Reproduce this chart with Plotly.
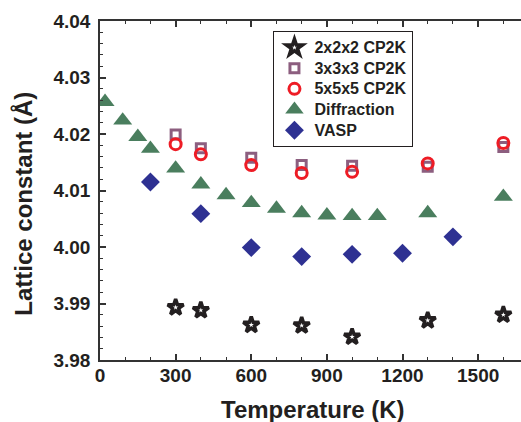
import plotly.graph_objects as go

# Data
t_2x2x2 = [300, 400, 600, 800, 1000, 1300, 1600]
a_2x2x2 = [3.9893, 3.9888, 3.9862, 3.9861, 3.9841, 3.9870, 3.9880]

t_3x3x3 = [300, 400, 600, 800, 1000, 1300, 1600]
a_3x3x3 = [4.0199, 4.0175, 4.0158, 4.0145, 4.0144, 4.0142, 4.0177]

t_5x5x5 = [300, 400, 600, 800, 1000, 1300, 1600]
a_5x5x5 = [4.0182, 4.0164, 4.0145, 4.0131, 4.0133, 4.0148, 4.0184]

t_diff = [20, 90, 150, 200, 300, 400, 500, 600, 700, 800, 900, 1000, 1100, 1300, 1600]
a_diff = [4.0257, 4.0224, 4.0195, 4.0174, 4.0139, 4.0111, 4.0092, 4.0078, 4.0068,
          4.0060, 4.0056, 4.0055, 4.0055, 4.0060, 4.0089]

t_vasp = [200, 400, 600, 800, 1000, 1200, 1400]
a_vasp = [4.0115, 4.0059, 3.9999, 3.9983, 3.9987, 3.9989, 4.0018]

x_ticks = [0, 300, 600, 900, 1200, 1500]
y_ticks = [3.98, 3.99, 4.00, 4.01, 4.02, 4.03, 4.04]

FONT = "Liberation Sans"
INK = "#231F20"


def leg(name):
    return f'<span style="font-size:16px;font-weight:bold">{name}</span>'


fig = go.Figure()
fig.add_trace(go.Scatter(
    x=t_2x2x2, y=a_2x2x2, mode="markers", name=leg("2x2x2 CP2K"),
    marker=dict(symbol="star-open", size=12, color=INK,
                line=dict(width=3.5, color=INK))))
fig.add_trace(go.Scatter(
    x=t_3x3x3, y=a_3x3x3, mode="markers", name=leg("3x3x3 CP2K"),
    marker=dict(symbol="square-open", size=9, color="#8C5E7F",
                line=dict(width=3, color="#8C5E7F"))))
fig.add_trace(go.Scatter(
    x=t_5x5x5, y=a_5x5x5, mode="markers", name=leg("5x5x5 CP2K"),
    marker=dict(symbol="circle-open", size=11, color="#EE1C25",
                line=dict(width=3, color="#EE1C25"))))
fig.add_trace(go.Scatter(
    x=t_diff, y=a_diff, mode="markers", name=leg("Diffraction"),
    marker=dict(symbol="triangle-up", size=16.5, color="#4A7E5E",
                line=dict(width=0))))
fig.add_trace(go.Scatter(
    x=t_vasp, y=a_vasp, mode="markers", name=leg("VASP"),
    marker=dict(symbol="diamond", size=14.5, color="#2E3192",
                line=dict(width=0))))

fig.update_layout(
    width=521, height=422,
    margin=dict(l=100, r=0, t=21, b=62, autoexpand=False),
    paper_bgcolor="white", plot_bgcolor="white",
    font=dict(family=FONT, color=INK),
    showlegend=True,
    legend=dict(x=0.412, y=0.97, xanchor="left", yanchor="top",
                bordercolor=INK, borderwidth=1, bgcolor="white",
                font=dict(family=FONT, size=13.6, color=INK, weight="bold"),
                tracegroupgap=0, itemsizing="trace"),
    annotations=[
        dict(text="<b>Temperature (K)</b>", xref="paper", yref="paper",
             x=0.506, y=-0.147, xanchor="center", yanchor="middle", showarrow=False,
             font=dict(family=FONT, size=24, color=INK)),
        dict(text="<b>Lattice constant (Å)</b>", xref="paper", yref="paper",
             x=-0.1805, y=0.461, xanchor="center", yanchor="middle", showarrow=False,
             textangle=-90, font=dict(family=FONT, size=24, color=INK)),
    ],
)
fig.update_xaxes(
    range=[0, 1670], tickvals=x_ticks, ticktext=[f"<b>{v}</b>" for v in x_ticks],
    automargin=False, ticklabelstandoff=-3,
    showline=True, linecolor="#333333", linewidth=1.5, mirror="ticks",
    ticks="inside", ticklen=6, tickwidth=1.5, tickcolor="#333333",
    minor=dict(dtick=100, tick0=0, ticks="inside", ticklen=3.5, tickwidth=1.2,
               tickcolor="#333333", showgrid=False),
    showgrid=False, zeroline=False,
    tickfont=dict(family=FONT, size=19, color=INK),
)
fig.update_yaxes(
    range=[3.98, 4.04], tickvals=y_ticks, ticktext=[f"<b>{v:.2f}</b>" for v in y_ticks],
    automargin=False, ticklabelstandoff=4,
    showline=True, linecolor="#333333", linewidth=1.5, mirror=False,
    ticks="inside", ticklen=6, tickwidth=1.5, tickcolor="#333333",
    minor=dict(dtick=0.002, tick0=3.98, ticks="inside", ticklen=3.5, tickwidth=1.2,
               tickcolor="#333333", showgrid=False),
    showgrid=False, zeroline=False,
    tickfont=dict(family=FONT, size=19, color=INK),
)

fig.write_html(
    "out.html",
    config={"displayModeBar": False},
    post_script="document.body.style.margin='0';document.body.style.overflow='hidden';",
)
